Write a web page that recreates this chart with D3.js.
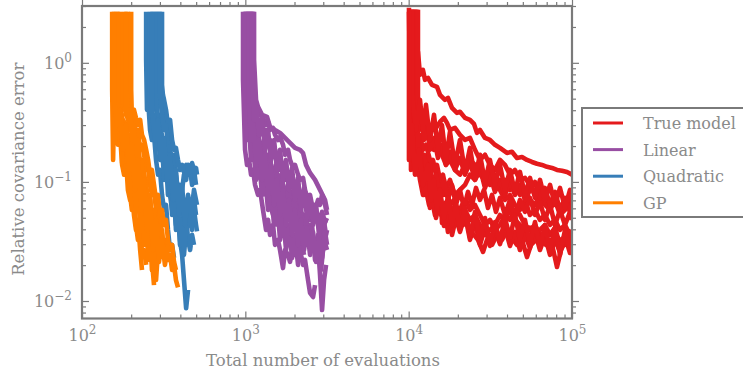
<!DOCTYPE html>
<html>
<head>
<meta charset="utf-8">
<script src="https://cdn.jsdelivr.net/npm/d3@7/dist/d3.min.js"></script>
<style>
  body { margin: 0; background: #fff; }
  svg text { font-family: "DejaVu Serif", "Liberation Serif", serif; }
</style>
</head>
<body>
<div id="chart"></div>
<script>
// legend order, colours (Set1)
const seriesNames = ["True model", "Linear", "Quadratic", "GP"];
const seriesColors = ["#e41a1c", "#984ea3", "#377eb8", "#ff7f00"];

// axis ticks
const xMajorTicks = [1e2, 1e3, 1e4, 1e5];
const xTickExponents = ["2", "3", "4", "5"];
const yMajorTicks = [1e-2, 1e-1, 1e0];
const yTickExponents = ["\u22122", "\u22121", "0"];

// each run: [total evaluations, relative covariance error]
const trueModelRuns = [
  [[10040,2.9],[10180,0.72],[10480,1.17],[10780,0.489],[11080,1.06],[11400,1.24],[11730,0.793],[12230,0.873],[12590,0.72],[13130,0.748],[13890,0.653],[14910,0.629],[15550,0.538],[16680,0.489],[17400,0.508],[18420,0.419],[19760,0.38],[20610,0.388],[22120,0.345],[23730,0.332],[25110,0.307],[26190,0.258],[27330,0.273],[29320,0.234],[31460,0.225],[33760,0.205],[36220,0.193],[39980,0.175],[42900,0.179],[46040,0.159],[49410,0.162],[53030,0.153],[56890,0.147],[61040,0.142],[65510,0.139],[70280,0.134],[75430,0.131],[80930,0.126],[86860,0.124],[93200,0.121],[100000,0.115]],
  [[10180,2.79],[10330,0.332],[10630,0.593],[11080,0.403],[11400,0.489],[11730,0.366],[12410,0.332],[13130,0.273],[13890,0.301],[14700,0.284],[15550,0.319],[16450,0.345],[17160,0.313],[17900,0.273],[19210,0.284],[20610,0.248],[22120,0.225],[23730,0.234],[25470,0.186],[27330,0.153],[29320,0.169],[31460,0.139],[33760,0.126],[36220,0.153],[38870,0.139],[41710,0.115],[44750,0.126],[48020,0.104],[51530,0.108],[55310,0.0944],[59340,0.0778],[63680,0.0857],[68320,0.0706],[73350,0.0641],[78700,0.0734],[84450,0.0582],[90600,0.0706],[97230,0.0641],[100000,0.0706]],
  [[10330,2.79],[10330,0.126],[10630,0.225],[10930,0.273],[11240,0.205],[11560,0.153],[11890,0.186],[12410,0.139],[12950,0.169],[13500,0.126],[14090,0.153],[14700,0.115],[15550,0.0944],[16220,0.115],[16920,0.0857],[17900,0.104],[19210,0.0778],[20610,0.0857],[22120,0.0944],[23730,0.115],[25470,0.104],[27330,0.126],[29320,0.115],[31460,0.0944],[33760,0.104],[36220,0.0857],[38870,0.0706],[41710,0.0778],[44750,0.0641],[48020,0.0582],[51530,0.0706],[55310,0.0528],[59340,0.0582],[63680,0.048],[68320,0.0528],[73350,0.0435],[78700,0.048],[84450,0.0395],[90600,0.0435],[97230,0.0359],[100000,0.0395]],
  [[10480,2.79],[10480,0.225],[10780,0.126],[11080,0.169],[11400,0.139],[11730,0.115],[12230,0.126],[12760,0.0944],[13320,0.104],[13890,0.0778],[14490,0.0857],[15120,0.0582],[15770,0.0706],[15990,0.0452],[16680,0.0582],[17400,0.038],[18160,0.0528],[19210,0.048],[20610,0.0582],[21510,0.0435],[22750,0.048],[23730,0.0395],[25110,0.0359],[26570,0.0326],[28510,0.0258],[30170,0.0326],[32370,0.0296],[34730,0.0359],[37260,0.0326],[39980,0.0395],[42900,0.0338],[46040,0.0296],[49410,0.0326],[53030,0.0234],[56090,0.0296],[60180,0.0326],[64580,0.0359],[69300,0.0296],[74390,0.0326],[80930,0.0193],[85650,0.0268],[91890,0.0326],[97230,0.0253],[100000,0.0296]],
  [[10630,2.79],[10630,0.489],[10930,0.273],[11240,0.225],[11730,0.248],[12230,0.186],[12760,0.205],[13500,0.153],[14290,0.126],[14910,0.139],[15550,0.104],[16450,0.0778],[17160,0.0857],[17900,0.0641],[18940,0.0706],[20040,0.0528],[21210,0.0641],[22430,0.0706],[23730,0.0582],[25470,0.0641],[27330,0.0528],[29320,0.0435],[31460,0.048],[33760,0.0395],[36220,0.0435],[38870,0.0528],[41710,0.048],[44750,0.0582],[48020,0.0528],[51530,0.0435],[55310,0.0395],[59340,0.0435],[63680,0.0359],[68320,0.0326],[73350,0.0296],[78700,0.0359],[84450,0.0326],[90600,0.0296],[97230,0.034],[100000,0.0326]],
  [[10780,2.79],[10780,0.593],[11080,0.444],[11560,0.332],[12060,0.345],[12760,0.248],[13500,0.225],[14290,0.186],[15120,0.205],[15990,0.169],[16920,0.139],[17900,0.153],[19210,0.126],[20610,0.115],[22120,0.139],[23730,0.153],[25470,0.139],[27330,0.115],[29320,0.104],[31460,0.126],[33760,0.115],[36220,0.0944],[38870,0.104],[41710,0.0857],[44750,0.0944],[48020,0.0778],[51530,0.0857],[55310,0.0706],[59340,0.0641],[63680,0.0778],[68320,0.0641],[73350,0.0582],[78700,0.0706],[84450,0.0528],[90600,0.0582],[97230,0.0778],[100000,0.0706]],
  [[11080,2.79],[11080,0.186],[11400,0.139],[11730,0.104],[12230,0.0778],[12760,0.0857],[13320,0.0641],[13890,0.0706],[14490,0.0528],[15120,0.0582],[15770,0.0528],[16450,0.0641],[17400,0.0706],[18420,0.0582],[19480,0.0641],[20610,0.0528],[22120,0.0582],[23730,0.048],[25470,0.0528],[27330,0.0435],[29320,0.0359],[31460,0.0395],[33760,0.0435],[36220,0.0528],[38870,0.048],[41710,0.0582],[44750,0.048],[48020,0.0435],[51530,0.0359],[55310,0.0413],[59340,0.0326],[63680,0.0395],[68320,0.0435],[73350,0.0359],[78700,0.0413],[84450,0.0296],[90600,0.0359],[97230,0.0311],[100000,0.034]],
  [[10930,2.79],[10930,0.273],[11240,0.139],[11560,0.205],[11890,0.126],[12410,0.169],[12950,0.104],[13500,0.139],[14090,0.0857],[14700,0.115],[15550,0.0778],[16450,0.104],[17400,0.0706],[18420,0.0944],[19480,0.0641],[20610,0.0857],[21810,0.0605],[23080,0.0824],[24420,0.0641],[25830,0.089],[27330,0.0706],[28920,0.0857],[30590,0.0605],[32370,0.0778],[34240,0.056],[36220,0.0734],[38870,0.0528],[41710,0.0706],[44750,0.0498],[48020,0.0706],[51530,0.056],[55310,0.0734],[59340,0.0528],[63680,0.0679],[68320,0.048],[73350,0.0641],[78700,0.0435],[84450,0.0582],[90600,0.0435],[97230,0.056],[100000,0.048]],
  [[11240,2.79],[11240,0.444],[11560,0.273],[11890,0.366],[12410,0.225],[12950,0.284],[13500,0.186],[14290,0.234],[15120,0.159],[15990,0.205],[16920,0.139],[17900,0.179],[19210,0.126],[20610,0.159],[22120,0.115],[23730,0.147],[25470,0.104],[27330,0.131],[29320,0.089],[31460,0.115],[33760,0.0824],[36220,0.104],[38870,0.0778],[41710,0.1],[44750,0.0778],[48020,0.0944],[51530,0.0706],[55310,0.0857],[59340,0.1],[63680,0.0734],[68320,0.089],[73350,0.0641],[78700,0.0824],[84450,0.0582],[90600,0.0734],[97230,0.056],[100000,0.0641]],
  [[11400,2.79],[11400,0.115],[11890,0.153],[12410,0.0778],[12950,0.108],[13500,0.0605],[14090,0.0857],[14700,0.0498],[15550,0.0706],[16450,0.0427],[17400,0.0582],[18420,0.0359],[19480,0.0498],[20610,0.038],[22120,0.0528],[23730,0.0326],[25470,0.0461],[27330,0.0296],[29320,0.0413],[31460,0.029],[33760,0.0395],[36220,0.0301],[38870,0.0413],[41710,0.029],[44750,0.038],[48020,0.0268],[51530,0.0359],[55310,0.0279],[59340,0.038],[63680,0.0268],[68320,0.0352],[73350,0.0244],[78700,0.0326],[84450,0.0258],[90600,0.0352],[97230,0.0279],[100000,0.0326]],
  [[10480,2.79],[10480,0.538],[11080,0.273],[11730,0.489],[12230,0.273],[12760,0.444],[13500,0.225],[14290,0.366],[15120,0.186],[15990,0.301],[16920,0.153],[17900,0.263],[19210,0.139],[20610,0.225],[22120,0.1213],[23730,0.193],[25470,0.108],[27330,0.169],[29320,0.1],[31460,0.153],[33760,0.0944],[36220,0.139],[38870,0.0857],[41710,0.126],[44750,0.0824],[48020,0.1213],[51530,0.0778],[55310,0.108],[59340,0.0734],[63680,0.104],[68320,0.0706],[73350,0.0944],[78700,0.0641],[84450,0.089],[90600,0.0605],[97230,0.0857],[100000,0.0734]],
  [[10040,2.68],[10040,0.153],[10480,0.301],[10930,0.115],[11560,0.186],[12230,0.0944],[13130,0.139],[13700,0.0706],[14290,0.104],[14910,0.0582],[15550,0.0857],[16450,0.0498],[17400,0.0734],[18420,0.0435],[19480,0.0641],[20610,0.0395],[22120,0.0605],[23730,0.034],[25470,0.056],[27330,0.0326],[29320,0.0498],[31460,0.0296],[33760,0.0461],[36220,0.0313],[38870,0.0498],[41710,0.034],[44750,0.0528],[48020,0.0326],[51530,0.048],[55310,0.0296],[59340,0.0461],[63680,0.0279],[68320,0.0435],[73350,0.0268],[78700,0.0413],[84450,0.0244],[90600,0.0395],[97230,0.0268],[100000,0.0326]]
];

const linearRuns = [
  [[968,2.68],[968,0.72],[982,0.366],[996,0.186],[1024,0.139],[1054,0.153],[1084,0.115],[1115,0.126],[1147,0.0944],[1196,0.0778],[1230,0.0857],[1283,0.0582],[1339,0.0395],[1377,0.048],[1417,0.0359],[1478,0.0435],[1520,0.0296],[1586,0.0326],[1631,0.0268],[1701,0.0189],[1750,0.0268],[1826,0.0244],[1878,0.0213],[1960,0.0296]],
  [[1024,2.68],[1024,0.538],[1054,0.366],[1084,0.273],[1115,0.301],[1147,0.225],[1196,0.186],[1230,0.205],[1283,0.139],[1339,0.115],[1377,0.126],[1417,0.0944],[1478,0.0778],[1520,0.0857],[1586,0.0641],[1631,0.0528],[1701,0.0582],[1750,0.0435],[1826,0.0359],[1878,0.0395],[1960,0.0296],[2015,0.0326],[2102,0.0244],[2163,0.0268],[2256,0.0201],[2320,0.0221],[2421,0.015],[2490,0.0117],[2597,0.0108],[2672,0.0136]],
  [[1069,2.68],[1069,0.489],[1084,0.403],[1115,0.366],[1147,0.332],[1196,0.284],[1230,0.301],[1283,0.248],[1339,0.273],[1377,0.205],[1417,0.225],[1478,0.169],[1520,0.186],[1586,0.153],[1631,0.126],[1701,0.139],[1750,0.104],[1826,0.115],[1878,0.0857],[1960,0.0706],[2015,0.0778],[2102,0.0582],[2163,0.0641],[2256,0.048],[2320,0.0528],[2421,0.0395],[2490,0.0435],[2597,0.0326],[2672,0.0268],[2787,0.0296],[2867,0.0165],[2949,0.0084],[3034,0.015],[3121,0.0201]],
  [[1115,2.68],[1115,0.873],[1131,0.538],[1147,0.444],[1196,0.403],[1230,0.366],[1283,0.345],[1339,0.301],[1377,0.319],[1417,0.273],[1478,0.284],[1520,0.248],[1586,0.225],[1631,0.239],[1701,0.205],[1750,0.169],[1826,0.186],[1878,0.153],[1960,0.131],[2015,0.139],[2102,0.115],[2163,0.104],[2256,0.108],[2320,0.0857],[2421,0.0706],[2490,0.0778],[2597,0.0582],[2672,0.0641],[2787,0.048],[2867,0.0528],[2949,0.0435],[3034,0.0461],[3121,0.0359],[3164,0.0395]],
  [[1039,2.68],[1039,0.489],[1069,0.273],[1084,0.186],[1115,0.205],[1147,0.153],[1196,0.126],[1230,0.139],[1283,0.104],[1339,0.0778],[1377,0.0857],[1417,0.0641],[1478,0.0528],[1520,0.0582],[1586,0.0435],[1631,0.048],[1701,0.0359],[1750,0.0395],[1826,0.0296],[1878,0.0326],[1960,0.0268],[2015,0.0244],[2102,0.0326],[2163,0.0359],[2256,0.0435],[2320,0.0395],[2421,0.0528],[2490,0.048],[2597,0.0641],[2672,0.0582],[2787,0.0706],[2867,0.0641],[2949,0.0778],[3034,0.0706],[3121,0.0582],[3164,0.0528]],
  [[1010,2.68],[1010,0.489],[1024,0.332],[1054,0.248],[1084,0.225],[1115,0.169],[1147,0.186],[1196,0.139],[1230,0.153],[1283,0.186],[1339,0.153],[1377,0.169],[1417,0.139],[1478,0.126],[1520,0.104],[1586,0.115],[1631,0.0857],[1701,0.0944],[1750,0.0706],[1826,0.0778],[1878,0.0582],[1960,0.048],[2015,0.0528],[2102,0.0435],[2163,0.0461],[2256,0.0359],[2320,0.0395],[2421,0.0296],[2490,0.0326],[2597,0.0268],[2672,0.0296],[2787,0.0244],[2867,0.0268],[2949,0.0359],[3034,0.0435],[3121,0.048]],
  [[1131,2.68],[1131,1.06],[1163,0.489],[1196,0.427],[1266,0.366],[1358,0.352],[1417,0.29],[1520,0.273],[1631,0.258],[1750,0.234],[1878,0.213],[2015,0.193],[2163,0.186],[2256,0.175],[2353,0.139],[2490,0.119],[2672,0.104],[2867,0.0857],[3076,0.0706],[3164,0.0582]],
  [[1084,2.68],[1084,0.593],[1099,0.301],[1131,0.403],[1163,0.205],[1196,0.273],[1248,0.153],[1301,0.225],[1358,0.115],[1417,0.169],[1478,0.0944],[1542,0.139],[1609,0.0778],[1678,0.115],[1750,0.0641],[1826,0.0944],[1906,0.0528],[1988,0.0778],[2073,0.0435],[2163,0.0641],[2256,0.0359],[2353,0.0528],[2455,0.0296],[2561,0.0435],[2672,0.0221],[2787,0.0359],[2908,0.0182],[3034,0.0326],[3164,0.0268]],
  [[996,2.68],[996,0.403],[1024,0.225],[1054,0.301],[1084,0.153],[1115,0.205],[1163,0.104],[1213,0.153],[1266,0.0778],[1320,0.115],[1377,0.0582],[1437,0.0857],[1499,0.0435],[1564,0.0706],[1631,0.0326],[1701,0.0528],[1775,0.0268],[1852,0.0435],[1932,0.023],[2015,0.0359],[2102,0.0201],[2193,0.0326],[2288,0.0244]],
  [[1054,2.68],[1054,0.444],[1084,0.225],[1115,0.332],[1163,0.139],[1213,0.225],[1266,0.104],[1320,0.169],[1377,0.0778],[1437,0.139],[1499,0.0641],[1564,0.104],[1631,0.0528],[1701,0.0857],[1775,0.0435],[1852,0.0706],[1932,0.0359],[2015,0.0582],[2102,0.0296],[2193,0.048],[2288,0.0268],[2387,0.0413],[2490,0.0244],[2597,0.038],[2710,0.0213],[2827,0.034],[2949,0.023],[3076,0.038],[3164,0.0296]],
  [[1099,2.68],[1099,0.72],[1131,0.332],[1163,0.444],[1213,0.248],[1266,0.345],[1320,0.186],[1377,0.273],[1437,0.153],[1499,0.225],[1564,0.126],[1631,0.186],[1701,0.104],[1775,0.153],[1852,0.0857],[1932,0.131],[2015,0.0706],[2102,0.108],[2193,0.0582],[2288,0.089],[2387,0.0498],[2490,0.0734],[2597,0.0435],[2710,0.0641],[2827,0.0359],[2949,0.056],[3076,0.0461],[3164,0.0498]]
];

const quadraticRuns = [
  [[247,2.68],[247,1.06],[250,0.403],[254,0.489],[261,0.273],[268,0.225],[276,0.248],[284,0.153],[292,0.115],[300,0.126],[309,0.0778],[318,0.0582],[327,0.0641],[336,0.0395],[346,0.0268],[356,0.0296],[366,0.023]],
  [[276,2.68],[276,0.873],[280,0.538],[284,0.403],[292,0.332],[300,0.366],[309,0.225],[318,0.186],[327,0.205],[336,0.126],[346,0.0944],[356,0.104],[366,0.0706],[376,0.0528],[387,0.0582],[398,0.0326],[410,0.0244],[421,0.015],[434,0.0087],[446,0.0124]],
  [[292,2.68],[292,0.72],[300,0.489],[309,0.444],[318,0.332],[327,0.273],[336,0.301],[346,0.186],[356,0.153],[366,0.169],[376,0.115],[387,0.0857],[398,0.0944],[410,0.0641],[421,0.048],[434,0.0528],[446,0.0326],[459,0.0268],[472,0.0359],[485,0.0296]],
  [[309,2.68],[309,0.653],[313,0.538],[318,0.489],[327,0.403],[336,0.301],[346,0.332],[356,0.225],[366,0.186],[376,0.193],[387,0.153],[398,0.126],[410,0.139],[421,0.121],[434,0.139],[446,0.115],[459,0.126],[472,0.0944],[485,0.108],[499,0.131],[506,0.115]],
  [[284,2.68],[284,0.593],[288,0.489],[292,0.273],[300,0.225],[309,0.248],[318,0.153],[327,0.115],[336,0.126],[346,0.0778],[356,0.0582],[366,0.0641],[376,0.0435],[387,0.048],[398,0.0359],[410,0.0395],[421,0.0582],[434,0.0706],[446,0.0582],[459,0.0641],[472,0.0528],[485,0.0582],[499,0.0435],[506,0.0385]],
  [[300,2.68],[300,0.538],[309,0.366],[318,0.273],[327,0.301],[336,0.205],[346,0.153],[356,0.169],[366,0.115],[376,0.0857],[387,0.0944],[398,0.0706],[410,0.0857],[421,0.115],[434,0.104],[446,0.139],[459,0.121],[472,0.144],[485,0.126],[499,0.0944]],
  [[261,2.68],[261,0.489],[268,0.301],[276,0.366],[284,0.205],[292,0.273],[300,0.153],[309,0.205],[318,0.104],[327,0.153],[336,0.0778],[346,0.115],[356,0.0528],[366,0.0857],[376,0.0395],[387,0.0641],[398,0.0296],[410,0.048],[421,0.0244],[434,0.0395],[446,0.0435],[459,0.0582],[472,0.0395],[485,0.0706],[499,0.0528]],
  [[268,2.68],[268,0.403],[280,0.225],[292,0.332],[305,0.153],[318,0.234],[331,0.104],[346,0.169],[361,0.0706],[376,0.126],[393,0.0528],[410,0.0944],[427,0.0435],[446,0.0778],[465,0.0528],[485,0.0857],[506,0.0641]]
];

const gpRuns = [
  [[153,2.68],[153,0.593],[155,0.153],[157,0.366],[162,0.301],[166,0.205],[171,0.248],[176,0.139],[181,0.115],[186,0.153],[191,0.0857],[197,0.0706],[202,0.0944],[208,0.0528],[214,0.0395],[220,0.048],[227,0.0268],[233,0.0182]],
  [[162,2.68],[162,0.403],[166,0.332],[171,0.225],[176,0.273],[181,0.186],[186,0.126],[191,0.139],[197,0.0778],[202,0.0582],[208,0.0706],[214,0.0435],[220,0.0326],[227,0.0395],[233,0.0244],[240,0.0268],[247,0.0201]],
  [[171,2.68],[173,0.489],[176,0.144],[178,0.332],[186,0.301],[191,0.225],[197,0.248],[202,0.169],[208,0.126],[214,0.153],[220,0.0857],[227,0.0944],[233,0.0582],[240,0.0641],[247,0.0435],[254,0.0326],[261,0.0359],[268,0.0221],[276,0.0136]],
  [[181,2.68],[181,0.444],[186,0.366],[191,0.345],[197,0.273],[202,0.301],[208,0.205],[214,0.186],[220,0.225],[227,0.139],[233,0.115],[240,0.126],[247,0.0778],[254,0.0641],[261,0.0706],[268,0.048],[276,0.0528],[284,0.0326],[292,0.0359],[300,0.023]],
  [[191,2.68],[194,0.403],[197,0.352],[202,0.366],[208,0.332],[214,0.248],[220,0.273],[227,0.186],[233,0.205],[240,0.169],[247,0.126],[254,0.139],[261,0.0944],[268,0.0778],[276,0.0857],[284,0.0582],[292,0.0435],[300,0.0528],[309,0.0359],[318,0.0296],[327,0.0326],[336,0.0221],[346,0.0244],[356,0.0182],[366,0.0201],[376,0.015],[387,0.013]],
  [[200,2.68],[200,0.593],[202,0.352],[208,0.403],[214,0.345],[220,0.301],[227,0.332],[233,0.248],[240,0.225],[247,0.186],[254,0.153],[261,0.115],[268,0.126],[276,0.0944],[284,0.0706],[292,0.0778],[300,0.0528],[309,0.0582],[318,0.0435],[327,0.048],[336,0.0326],[346,0.0268],[356,0.0296],[366,0.0213],[376,0.0182]],
  [[166,2.68],[166,0.444],[171,0.273],[176,0.366],[181,0.186],[186,0.273],[191,0.126],[197,0.186],[202,0.0857],[208,0.139],[214,0.0582],[220,0.0944],[227,0.0395],[233,0.0706],[240,0.0296],[247,0.0528],[254,0.0221],[261,0.0395],[268,0.0182],[276,0.0296],[284,0.015],[292,0.0268]],
  [[186,2.68],[186,0.403],[191,0.332],[197,0.403],[202,0.225],[208,0.301],[214,0.153],[220,0.225],[227,0.104],[233,0.153],[240,0.0778],[247,0.104],[254,0.0528],[261,0.0778],[268,0.0395],[276,0.0582],[284,0.0268],[292,0.0435],[300,0.0296],[309,0.0395],[318,0.0244]],
  [[157,2.68],[157,0.489],[164,0.301],[171,0.403],[178,0.186],[186,0.301],[194,0.126],[202,0.205],[211,0.0857],[220,0.153],[230,0.0582],[240,0.104],[250,0.0395],[261,0.0706],[272,0.0268],[284,0.048],[296,0.0213],[309,0.0326],[322,0.0201],[336,0.0296]]
];

const allRuns = [trueModelRuns, linearRuns, quadraticRuns, gpRuns];

const W = 743, H = 372;
const margin = {top: 6, right: 171, bottom: 53.5, left: 82};
const width = W - margin.left - margin.right;
const height = H - margin.top - margin.bottom;
const textColor = "#8a8a8a", frameColor = "#7a7a7a";
const fontFamily = "'DejaVu Serif', 'Liberation Serif', serif";

const svg = d3.select("#chart").append("svg")
  .attr("width", W)
  .attr("height", H)
  .attr("font-family", fontFamily);

const x = d3.scaleLog().domain([1e2, 1e5]).range([0, width]);
const y = d3.scaleLog().domain([0.00713, 3.0]).range([height, 0]);

const g = svg.append("g")
  .attr("transform", `translate(${margin.left},${margin.top})`);

g.append("clipPath").attr("id", "plot-clip")
  .append("rect").attr("width", width).attr("height", height);

// runs
const line = d3.line().x(d => x(d[0])).y(d => y(d[1]));
const traces = g.append("g").attr("clip-path", "url(#plot-clip)");
allRuns.forEach((runs, i) => {
  traces.selectAll(null)
    .data(runs)
    .enter().append("path")
    .attr("d", line)
    .attr("fill", "none")
    .attr("stroke", seriesColors[i])
    .attr("stroke-width", 4.6)
    .attr("stroke-linejoin", "round");
});

// ticks on all four sides, pointing in
const xMinor = x.ticks().filter(v => !xMajorTicks.includes(v));
const yMinor = y.ticks().filter(v => !yMajorTicks.some(m => Math.abs(m - v) / v < 1e-6));

function styleAxis(sel) {
  sel.attr("font-family", fontFamily);
  sel.select(".domain").remove();
  sel.selectAll("line").attr("stroke", frameColor).attr("stroke-width", 1.2);
  sel.selectAll("text").attr("fill", textColor).attr("font-size", 16);
}

const supLabel = exps => function(d, i) {
  const t = d3.select(this).text("10");
  t.append("tspan").attr("dy", -7).attr("font-size", 12).text(exps[i]);
};

[[0, height, d3.axisBottom], [0, 0, d3.axisTop]].forEach(([tx, ty, axisFn], k) => {
  g.append("g").attr("transform", `translate(${tx},${ty})`)
    .call(axisFn(x).tickValues(xMinor).tickSize(k ? 4 : -4).tickFormat(""))
    .call(styleAxis);
  const major = g.append("g").attr("transform", `translate(${tx},${ty})`)
    .call(axisFn(x).tickValues(xMajorTicks).tickSize(k ? 7 : -7).tickPadding(11).tickFormat(k ? "" : d => d))
    .call(styleAxis);
  if (!k) major.selectAll(".tick text").each(supLabel(xTickExponents));
});

[[0, d3.axisLeft], [width, d3.axisRight]].forEach(([tx, axisFn], k) => {
  g.append("g").attr("transform", `translate(${tx},0)`)
    .call(axisFn(y).tickValues(yMinor).tickSize(k ? 4 : -4).tickFormat(""))
    .call(styleAxis);
  const major = g.append("g").attr("transform", `translate(${tx},0)`)
    .call(axisFn(y).tickValues(yMajorTicks).tickSize(k ? 7 : -7).tickPadding(10).tickFormat(k ? "" : d => d))
    .call(styleAxis);
  if (!k) major.selectAll(".tick text").attr("dy", "0.35em").each(supLabel(yTickExponents));
});

// frame
g.append("rect")
  .attr("width", width).attr("height", height)
  .attr("fill", "none")
  .attr("stroke", frameColor)
  .attr("stroke-width", 2.2);

// axis titles
svg.append("text")
  .attr("x", margin.left + width / 2 - 4)
  .attr("y", 366)
  .attr("text-anchor", "middle")
  .attr("fill", textColor)
  .attr("font-size", 16.5)
  .text("Total number of evaluations");

svg.append("text")
  .attr("transform", `translate(24,${margin.top + height / 2 + 7}) rotate(-90)`)
  .attr("text-anchor", "middle")
  .attr("fill", textColor)
  .attr("font-size", 16.5)
  .text("Relative covariance error");

// legend
const legend = svg.append("g").attr("transform", "translate(582,108)");
legend.append("rect")
  .attr("width", 175).attr("height", 109)
  .attr("fill", "#fff")
  .attr("stroke", frameColor)
  .attr("stroke-width", 2);
const items = legend.selectAll(".item")
  .data(seriesNames)
  .enter().append("g")
  .attr("class", "item")
  .attr("transform", (d, i) => `translate(0,${15 + i * 26.6})`);
items.append("line")
  .attr("x1", 11).attr("x2", 41)
  .attr("stroke", (d, i) => seriesColors[i])
  .attr("stroke-width", 3);
items.append("text")
  .attr("x", 61).attr("y", 6)
  .attr("fill", textColor)
  .attr("font-size", 16)
  .text(d => d);
</script>
</body>
</html>
